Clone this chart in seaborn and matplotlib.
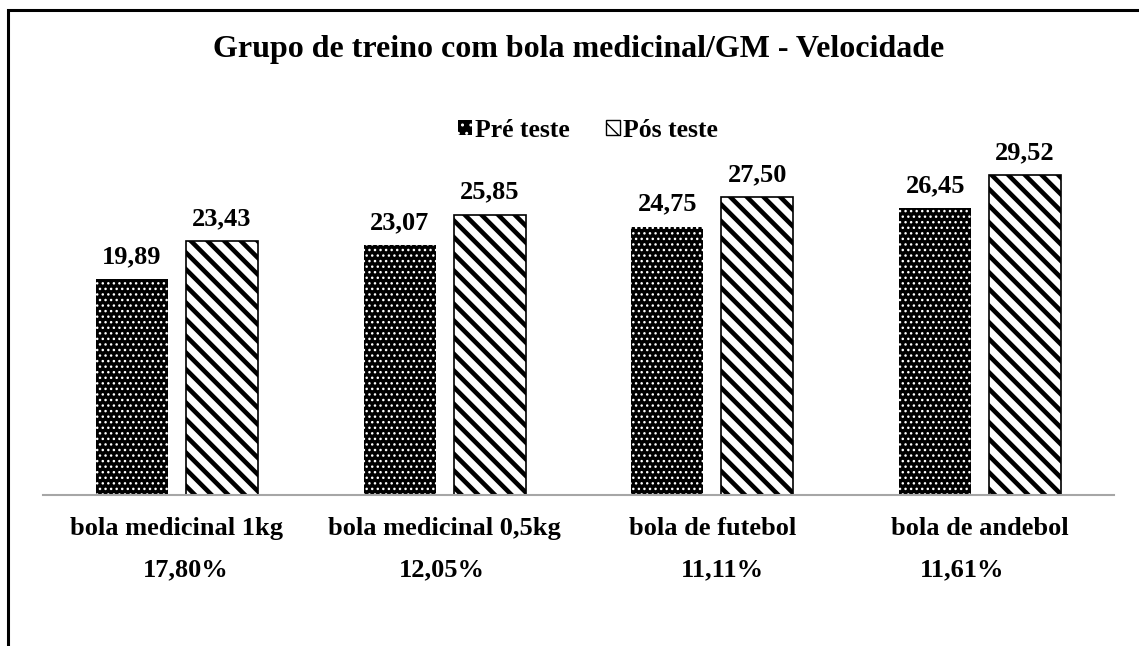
import matplotlib
matplotlib.use('Agg')
import matplotlib.pyplot as plt
import matplotlib.patches as mpatches
import seaborn as sns
import pandas as pd

# dados
categorias = ['bola medicinal 1kg', 'bola medicinal 0,5kg', 'bola de futebol', 'bola de andebol']
pre_teste = [19.89, 23.07, 24.75, 26.45]
pos_teste = [23.43, 25.85, 27.50, 29.52]
percentagens = ['17,80%', '12,05%', '11,11%', '11,61%']
series = ['Pré teste', 'Pós teste']

df = pd.DataFrame({
    'cat': categorias * 2,
    'valor': pre_teste + pos_teste,
    'serie': [series[0]] * 4 + [series[1]] * 4,
})

sns.set_style('white')
plt.rcParams['font.family'] = ['Liberation Serif', 'DejaVu Serif']
plt.rcParams['font.weight'] = 'bold'
plt.rcParams['text.color'] = 'black'
plt.rcParams['xtick.color'] = 'black'
plt.rcParams['hatch.linewidth'] = 1.0

fig = plt.figure(figsize=(11.39, 6.46), dpi=100)
ax = fig.add_axes([43 / 1139, 1 - 495 / 646, 1071 / 1139, 32 * 10.84 / 646])

sns.barplot(data=df, x='cat', y='valor', hue='serie', hue_order=series,
            width=0.672, gap=0.2, palette=['black', 'white'], ax=ax,
            legend=False, saturation=1)

# padrões
pre_bars = ax.containers[0]
pos_bars = ax.containers[1]
for b in pre_bars:
    b.set_facecolor('black')
    b.set_edgecolor('white')
    b.set_linewidth(0)
    b.set_hatch('...')
    if hasattr(b, 'set_hatch_linewidth'):
        b.set_hatch_linewidth(1.0)
for b in pos_bars:
    b.set_facecolor('white')
    b.set_edgecolor('black')
    b.set_linewidth(1.2)
    b.set_hatch('\\\\')
    if hasattr(b, 'set_hatch_linewidth'):
        b.set_hatch_linewidth(3.3)

# rótulos dos valores
for cont, vals in zip(ax.containers, [pre_teste, pos_teste]):
    for b, v in zip(cont, vals):
        ax.annotate(f'{v:.2f}'.replace('.', ','),
                    (b.get_x() + b.get_width() / 2, b.get_height()),
                    xytext=(0, 16), textcoords='offset pixels',
                    ha='center', va='baseline', fontsize=19, fontweight='bold')

ax.set_ylim(0, 32)
ax.set_xlim(-0.5, 3.5)
ax.set_yticks([])
ax.set_xlabel('')
ax.set_ylabel('')
ax.tick_params(axis='x', length=0, pad=16, labelsize=19)
for lab in ax.get_xticklabels():
    lab.set_fontweight('bold')
for s in ['top', 'right', 'left']:
    ax.spines[s].set_visible(False)
ax.spines['bottom'].set_color('#a6a6a6')
ax.spines['bottom'].set_linewidth(1.5)

# percentagens por baixo das categorias
desvio = [0.034, -0.01, 0.037, -0.067]
for i, (p, d) in enumerate(zip(percentagens, desvio)):
    ax.text(i + d, -6.9, p, ha='center', va='center', fontsize=19,
            fontweight='bold')

# título
fig.text(579 / 1139, 1 - 50 / 646,
         'Grupo de treino com bola medicinal/GM - Velocidade',
         ha='center', va='center', fontsize=23, fontweight='bold')

# legenda
h_pre = mpatches.Patch(facecolor='black', edgecolor='white', hatch='..', linewidth=0)
h_pos = mpatches.Patch(facecolor='white', edgecolor='black', hatch='\\\\', linewidth=1)
fig.legend([h_pre, h_pos], series, loc='center',
           bbox_to_anchor=(588 / 1139, 1 - 130 / 646), ncol=2, frameon=False,
           handlelength=0.55, handleheight=0.55, handletextpad=0.12,
           columnspacing=1.4, prop={'size': 18.5, 'weight': 'bold'})

# moldura
moldura = mpatches.Rectangle((8 / 1139, -0.1), 1.2, 1.1 - 10 / 646,
                             transform=fig.transFigure, fill=False,
                             edgecolor='black', linewidth=2.2)
fig.patches.append(moldura)

plt.savefig('out.png', dpi=100)
